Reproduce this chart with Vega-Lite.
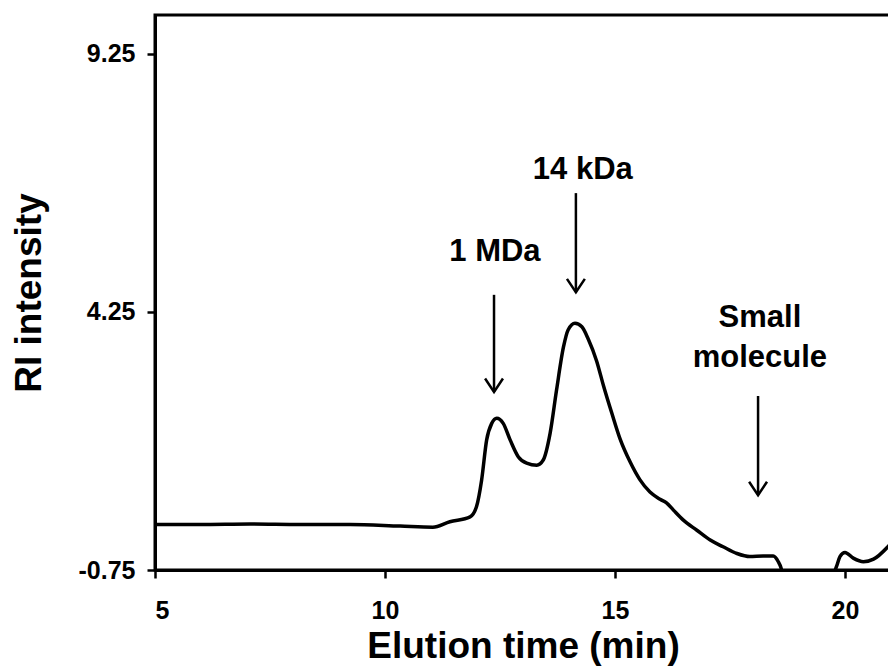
{
  "$schema": "https://vega.github.io/schema/vega-lite/v6.json",
  "autosize": "none",
  "width": 736,
  "height": 555,
  "padding": {"left": 155, "top": 15, "right": 0, "bottom": 101},
  "background": "white",
  "config": {
    "view": {"stroke": "black", "strokeWidth": 3},
    "font": "Liberation Sans",
    "axis": {
      "grid": false,
      "domainColor": "black",
      "domainWidth": 3,
      "tickColor": "black",
      "tickWidth": 2.5,
      "tickSize": 8,
      "labelFont": "Liberation Sans",
      "labelFontWeight": "bold",
      "labelFontSize": 25,
      "labelColor": "black",
      "titleFont": "Liberation Sans",
      "titleFontWeight": "bold",
      "titleFontSize": 37,
      "titleColor": "black"
    }
  },
  "datasets": {
    "curve": [
      {"t": 5.0, "ri": 0.13}, {"t": 5.98, "ri": 0.13}, {"t": 7.07, "ri": 0.14}, {"t": 8.15, "ri": 0.13},
      {"t": 9.24, "ri": 0.13}, {"t": 10.33, "ri": 0.10}, {"t": 11.04, "ri": 0.08}, {"t": 11.41, "ri": 0.185},
      {"t": 11.85, "ri": 0.28}, {"t": 11.99, "ri": 0.48}, {"t": 12.10, "ri": 0.99}, {"t": 12.21, "ri": 1.77},
      {"t": 12.32, "ri": 2.09}, {"t": 12.43, "ri": 2.19}, {"t": 12.57, "ri": 2.09}, {"t": 12.72, "ri": 1.77},
      {"t": 12.90, "ri": 1.44}, {"t": 13.08, "ri": 1.32}, {"t": 13.30, "ri": 1.28}, {"t": 13.44, "ri": 1.38},
      {"t": 13.59, "ri": 1.90}, {"t": 13.73, "ri": 2.74}, {"t": 13.88, "ri": 3.57}, {"t": 13.98, "ri": 3.90},
      {"t": 14.13, "ri": 4.03}, {"t": 14.28, "ri": 3.96}, {"t": 14.42, "ri": 3.72}, {"t": 14.60, "ri": 3.30},
      {"t": 14.75, "ri": 2.82}, {"t": 14.93, "ri": 2.29}, {"t": 15.11, "ri": 1.79}, {"t": 15.33, "ri": 1.34},
      {"t": 15.54, "ri": 1.00}, {"t": 15.76, "ri": 0.76}, {"t": 15.98, "ri": 0.62}, {"t": 16.12, "ri": 0.55},
      {"t": 16.27, "ri": 0.41}, {"t": 16.48, "ri": 0.22}, {"t": 16.78, "ri": 0.02}, {"t": 17.07, "ri": -0.17},
      {"t": 17.35, "ri": -0.30}, {"t": 17.65, "ri": -0.43}, {"t": 17.93, "ri": -0.49}, {"t": 18.22, "ri": -0.48},
      {"t": 18.44, "ri": -0.48}, {"t": 18.55, "ri": -0.59}, {"t": 18.61, "ri": -0.71}, {"t": 18.67, "ri": -0.94},
      {"t": 19.67, "ri": -0.94}, {"t": 19.82, "ri": -0.67}, {"t": 19.89, "ri": -0.49}, {"t": 20.0, "ri": -0.41},
      {"t": 20.18, "ri": -0.52}, {"t": 20.40, "ri": -0.59}, {"t": 20.62, "ri": -0.54}, {"t": 20.91, "ri": -0.32},
      {"t": 21.0, "ri": -0.23}
    ],
    "labels": [
      {"t": 14.30, "ri": 7.0, "label": "14 kDa"},
      {"t": 12.39, "ri": 5.41, "label": "1 MDa"},
      {"t": 18.15, "ri": 4.13, "label": "Small"},
      {"t": 18.15, "ri": 3.36, "label": "molecule"}
    ],
    "arrows": [
      {"t": 14.15, "from": 6.55, "to": 4.63},
      {"t": 12.37, "from": 4.58, "to": 2.70},
      {"t": 18.11, "from": 2.62, "to": 0.70}
    ]
  },
  "layer": [
    {
      "data": {"name": "curve"},
      "mark": {"type": "line", "color": "black", "strokeWidth": 3.5, "interpolate": "monotone", "clip": true},
      "encoding": {
        "x": {"field": "t", "type": "quantitative",
              "scale": {"domain": [5, 21], "nice": false, "zero": false},
              "axis": {"values": [5, 10, 15, 20], "title": "Elution time (min)", "labelPadding": 20, "titlePadding": 5}},
        "y": {"field": "ri", "type": "quantitative",
              "scale": {"domain": [-0.75, 10.0], "nice": false, "zero": false},
              "axis": {"values": [-0.75, 4.25, 9.25], "labelExpr": "replace(format(datum.value, '.2f'), '\u2212', '-')", "title": "RI intensity", "labelPadding": 12, "titlePadding": 30}}
      }
    },
    {
      "data": {"name": "arrows"},
      "mark": {"type": "rule", "color": "black", "strokeWidth": 2.5},
      "encoding": {
        "x": {"field": "t", "type": "quantitative"},
        "y": {"field": "from", "type": "quantitative"},
        "y2": {"field": "to"}
      }
    },
    {
      "data": {"name": "arrows"},
      "mark": {"type": "point", "shape": "M-1,-1.5L0,0L1,-1.5", "filled": false, "stroke": "black", "strokeWidth": 2.5, "size": 320, "opacity": 1},
      "encoding": {
        "x": {"field": "t", "type": "quantitative"},
        "y": {"field": "to", "type": "quantitative"}
      }
    },
    {
      "data": {"name": "labels"},
      "mark": {"type": "text", "font": "Liberation Sans", "fontWeight": "bold", "fontSize": 31, "color": "black", "align": "center", "baseline": "middle"},
      "encoding": {
        "x": {"field": "t", "type": "quantitative"},
        "y": {"field": "ri", "type": "quantitative"},
        "text": {"field": "label"}
      }
    }
  ]
}
